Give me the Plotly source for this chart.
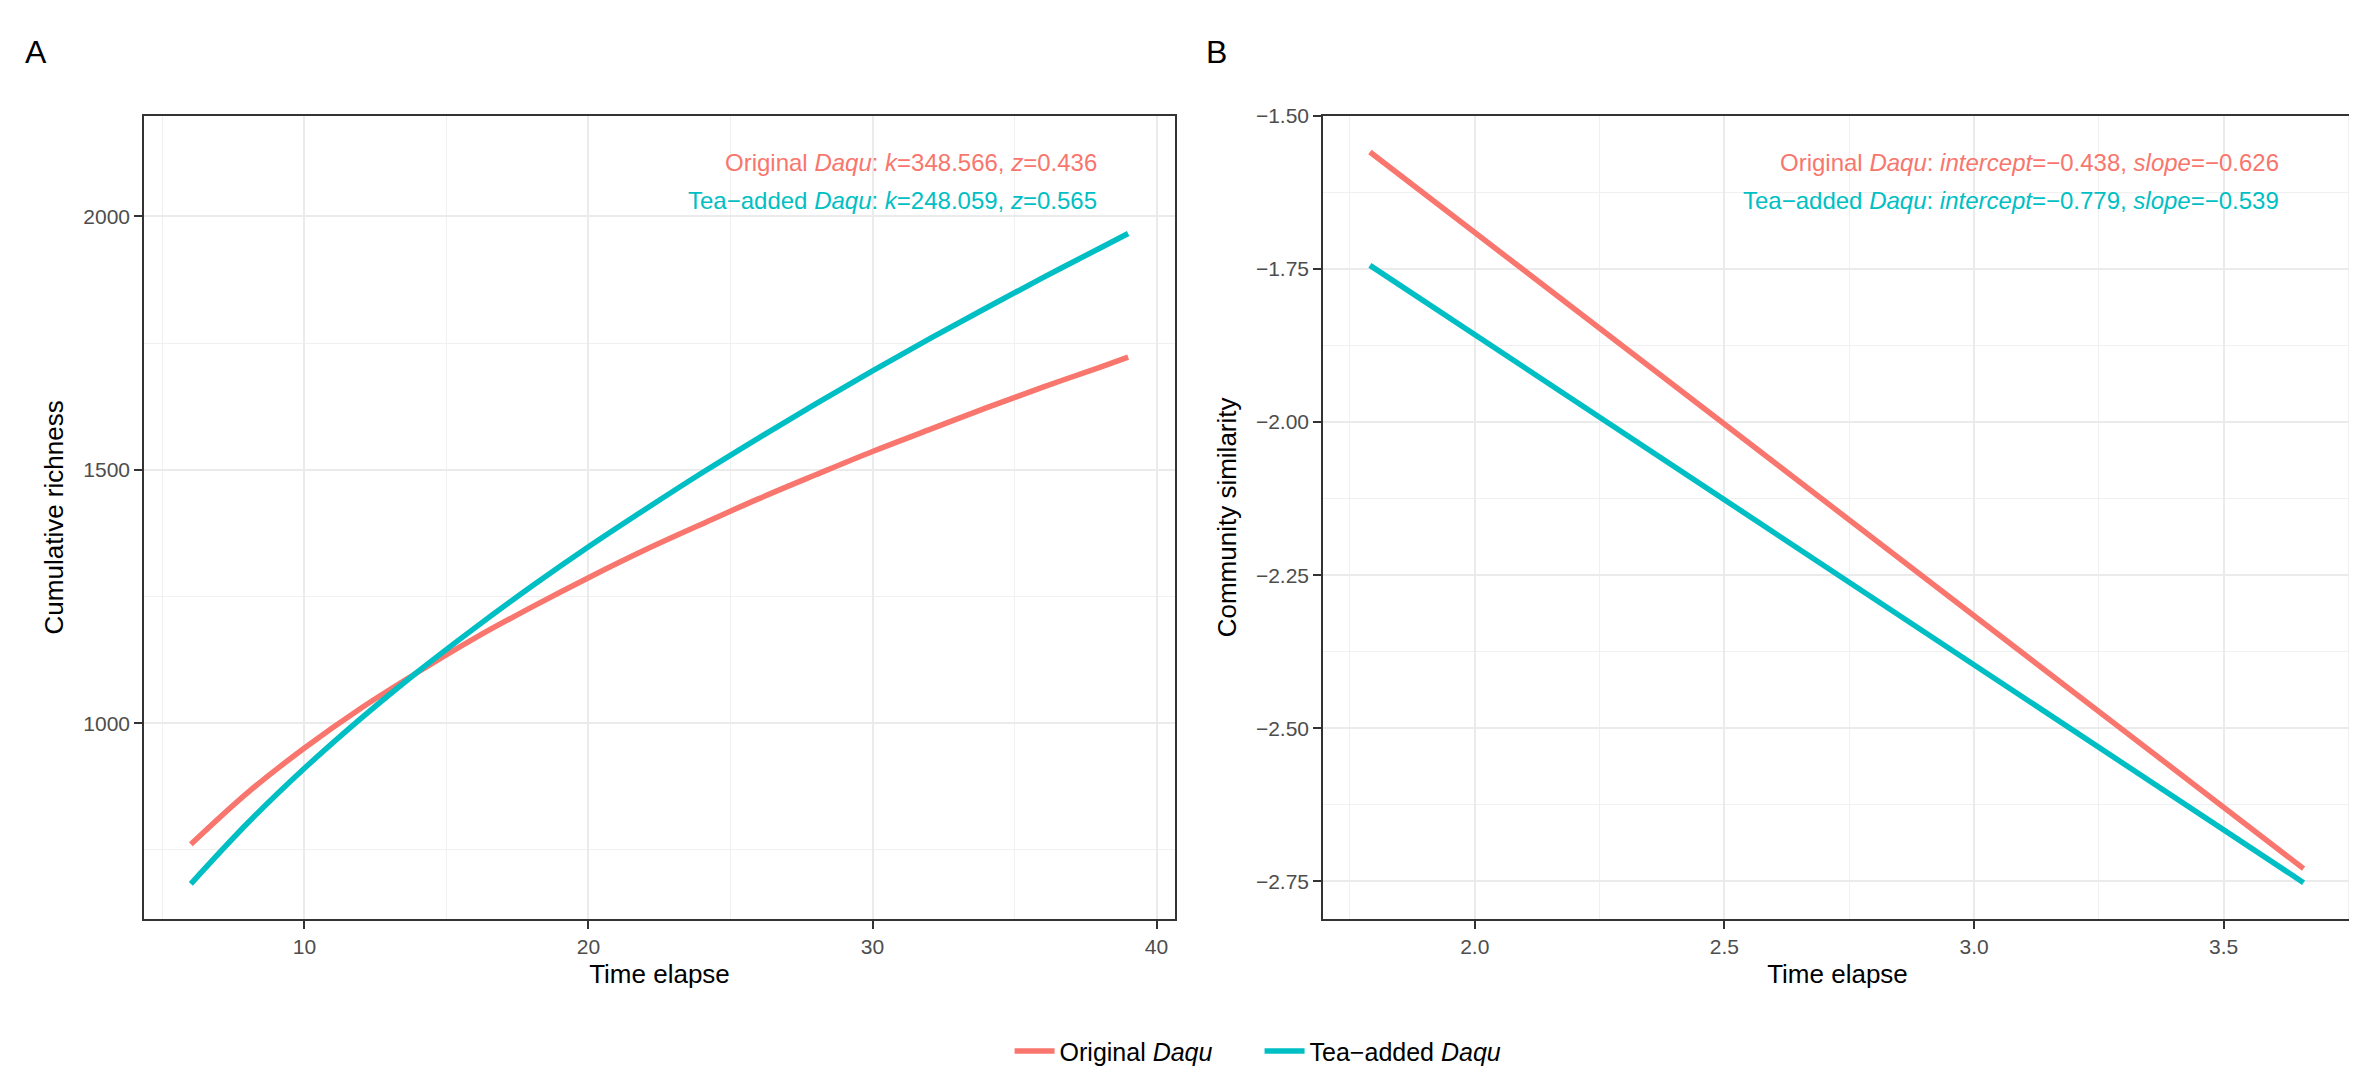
import plotly.graph_objects as go

# colours (ggplot default hue pair)
col_orig = '#F8766D'
col_tea = '#00BFC4'

# ---------------- panel A: cumulative richness vs time ----------------
time_a = [6, 8, 10, 12, 14, 16, 18, 20, 22, 24, 26, 28, 30, 32, 34, 36, 38, 39]
rich_orig = [761, 863, 951, 1030, 1101, 1168, 1229, 1287, 1342, 1393,
             1443, 1490, 1536, 1579, 1622, 1663, 1702, 1722]
rich_tea = [683, 803, 911, 1010, 1102, 1188, 1270, 1348, 1422, 1494,
            1563, 1630, 1695, 1758, 1819, 1879, 1937, 1966]

# ---------------- panel B: community similarity vs time ----------------
time_b = [1.79, 2.30, 2.77, 3.18, 3.66]
sim_orig = [-1.559, -1.878, -2.172, -2.429, -2.729]
sim_tea = [-1.744, -2.019, -2.272, -2.493, -2.752]

labels = ['Original <i>Daqu</i>', 'Tea\u2212added <i>Daqu</i>']
ann_a = ['Original <i>Daqu</i>: <i>k</i>=348.566, <i>z</i>=0.436',
         'Tea\u2212added <i>Daqu</i>: <i>k</i>=248.059, <i>z</i>=0.565']
ann_b = ['Original <i>Daqu</i>: <i>intercept</i>=\u22120.438, <i>slope</i>=\u22120.626',
         'Tea\u2212added <i>Daqu</i>: <i>intercept</i>=\u22120.779, <i>slope</i>=\u22120.539']

W, H = 2357, 1073
font = 'Liberation Sans'
lw = 5.5

fig = go.Figure()
fig.add_trace(go.Scatter(x=time_a, y=rich_orig, mode='lines', name=labels[0],
                         line=dict(color=col_orig, width=lw, shape='spline'),
                         xaxis='x', yaxis='y', legendgroup='o'))
fig.add_trace(go.Scatter(x=time_a, y=rich_tea, mode='lines', name=labels[1],
                         line=dict(color=col_tea, width=lw, shape='spline'),
                         xaxis='x', yaxis='y', legendgroup='t'))
fig.add_trace(go.Scatter(x=time_b, y=sim_orig, mode='lines', name=labels[0],
                         line=dict(color=col_orig, width=lw),
                         xaxis='x2', yaxis='y2', legendgroup='o', showlegend=False))
fig.add_trace(go.Scatter(x=time_b, y=sim_tea, mode='lines', name=labels[1],
                         line=dict(color=col_tea, width=lw),
                         xaxis='x2', yaxis='y2', legendgroup='t', showlegend=False))

ax_common = dict(showline=True, mirror=True, linecolor='#333333', linewidth=1.5,
                 ticks='outside', ticklen=8, tickwidth=2, tickcolor='#333333',
                 showgrid=True, gridcolor='#EBEBEB', gridwidth=2, zeroline=False,
                 tickfont=dict(family=font, size=21, color='#4D4D4D'))
title_font = dict(family=font, size=26, color='black')

y_top = 1 - 97 / H
y_bot = 1 - 909 / H

fig.update_layout(
    width=W, height=H,
    margin=dict(l=0, r=0, t=0, b=0),
    plot_bgcolor='white', paper_bgcolor='white',
    font=dict(family=font),
    xaxis=dict(domain=[136 / W, 1167 / W], range=[4.35, 40.65], dtick=10,
               minor=dict(dtick=5, showgrid=True, gridcolor='#F0F0F0', gridwidth=1, ticks=''),
               title=dict(text='Time elapse', font=title_font, standoff=8),
               anchor='y', **ax_common),
    yaxis=dict(domain=[y_bot, y_top], range=[614, 2198], tickvals=[1000, 1500, 2000],
               minor=dict(tickvals=[750, 1250, 1750], showgrid=True, gridcolor='#F0F0F0', gridwidth=1, ticks=''),
               title=dict(text='Cumulative richness', font=title_font, standoff=12),
               anchor='x', **ax_common),
    xaxis2=dict(domain=[1315 / W, 2344 / W], range=[1.696, 3.757], dtick=0.5, tickformat='.1f',
                minor=dict(dtick=0.25, showgrid=True, gridcolor='#F0F0F0', gridwidth=1, ticks=''),
                title=dict(text='Time elapse', font=title_font, standoff=8),
                anchor='y2', **ax_common),
    yaxis2=dict(domain=[y_bot, y_top], range=[-2.811, -1.5], dtick=0.25, tick0=-1.5, tickformat='.2f',
                minor=dict(dtick=0.125, showgrid=True, gridcolor='#F0F0F0', gridwidth=1, ticks=''),
                title=dict(text='Community similarity', font=title_font, standoff=12),
                anchor='x2', **ax_common),
    legend=dict(orientation='h', x=0.531, xanchor='center', y=1 - 1043 / H, yanchor='middle',
                font=dict(family=font, size=25, color='black'), itemwidth=40,
                entrywidth=195, entrywidthmode='pixels',
                bgcolor='rgba(0,0,0,0)'),
)

annotations = []
for i, (ta, tb) in enumerate(zip(ann_a, ann_b)):
    yy = 1 - (144 + 39 * i) / H
    c = col_orig if i == 0 else col_tea
    annotations.append(dict(text=ta, x=1091 / W, y=yy, xref='paper', yref='paper',
                            xanchor='right', yanchor='middle', showarrow=False,
                            font=dict(family=font, size=24, color=c)))
    annotations.append(dict(text=tb, x=2273 / W, y=yy, xref='paper', yref='paper',
                            xanchor='right', yanchor='middle', showarrow=False,
                            font=dict(family=font, size=24, color=c)))
# panel letters
annotations.append(dict(text='A', x=15 / W, y=1 - 32 / H, xref='paper', yref='paper',
                        xanchor='left', yanchor='middle', showarrow=False,
                        font=dict(family=font, size=32, color='black')))
annotations.append(dict(text='B', x=1196 / W, y=1 - 32 / H, xref='paper', yref='paper',
                        xanchor='left', yanchor='middle', showarrow=False,
                        font=dict(family=font, size=32, color='black')))
fig.update_layout(annotations=annotations)

fig.write_html('out.html')
